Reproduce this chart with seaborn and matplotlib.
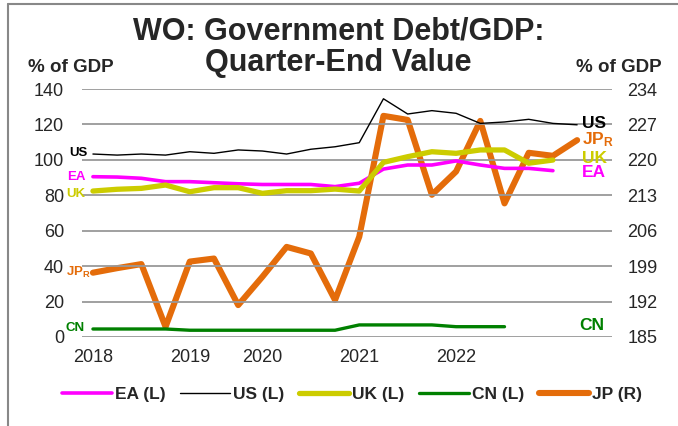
import numpy as np
import pandas as pd
import matplotlib
matplotlib.use("Agg")
import matplotlib.pyplot as plt
from matplotlib.lines import Line2D
from matplotlib.font_manager import FontProperties
import seaborn as sns

# quarterly, 2018Q1 .. 2023Q2
quarters = pd.period_range("2018Q1", "2023Q2", freq="Q").astype(str).tolist()
year_ticks = ["2018Q1", "2019Q1", "2019Q4", "2020Q4", "2021Q4"]
year_labels = ["2018", "2019", "2020", "2021", "2022"]

us = [103.3, 102.7, 103.3, 102.7, 104.6, 103.7, 105.6, 105.0, 103.3, 106.0, 107.4,
      109.7, 134.5, 125.9, 127.8, 126.3, 120.6, 121.4, 122.9, 120.6, 119.8]
ea = [90.5, 90.3, 89.6, 87.7, 87.7, 87.1, 86.5, 86.1, 86.1, 86.1, 84.9,
      86.8, 94.8, 97.1, 97.1, 99.4, 97.1, 95.2, 95.2, 93.9]
uk = [82.4, 83.4, 83.9, 85.8, 82.0, 84.3, 84.3, 81.1, 82.6, 82.6, 83.5,
      82.4, 98.6, 101.8, 104.6, 103.7, 105.6, 105.6, 98.1, 99.9]
cn = [4.5, 4.5, 4.5, 4.5, 3.8, 3.8, 3.8, 3.8, 3.8, 3.8, 3.8,
      6.8, 6.8, 6.8, 6.8, 5.8, 5.8, 5.8]
jp = [197.7, 198.6, 199.4, 187.0, 199.9, 200.5, 191.3, 196.9, 202.8, 201.5, 192.3,
      204.8, 228.7, 227.9, 213.1, 217.7, 227.7, 211.4, 221.4, 220.8, 223.9]

sns.set_style("white")
plt.rcParams["font.family"] = ["Liberation Sans", "DejaVu Sans"]
plt.rcParams["mathtext.fontset"] = "custom"
plt.rcParams["mathtext.rm"] = "Liberation Sans"
plt.rcParams["mathtext.bf"] = "Liberation Sans:bold"

C_EA, C_US, C_UK, C_CN, C_JP = "#FF00FF", "#000000", "#CCCC00", "#008000", "#E46C0A"

pos = {q: i for i, q in enumerate(quarters)}


def frame(vals):
    return pd.DataFrame({"x": range(len(vals)), "y": vals})


fig = plt.figure(figsize=(6.78, 4.26), dpi=100)
ax = fig.add_axes([0.121, 0.209, 0.782, 0.582])
ax2 = ax.twinx()

sns.lineplot(data=frame(ea), x="x", y="y", ax=ax, color=C_EA, lw=2.6)
sns.lineplot(data=frame(uk), x="x", y="y", ax=ax, color=C_UK, lw=3.8)
sns.lineplot(data=frame(us), x="x", y="y", ax=ax, color=C_US, lw=1.0)
sns.lineplot(data=frame(cn), x="x", y="y", ax=ax, color=C_CN, lw=2.4)
sns.lineplot(data=frame(jp), x="x", y="y", ax=ax2, color=C_JP, lw=4.4)

ax.set_xlim(-0.45, 21.45)
ax.set_ylim(0, 140)
ax2.set_ylim(185, 234)
ax.set_yticks(np.arange(0, 141, 20))
ax2.set_yticks(np.arange(185, 235, 7))
ax.set_xticks([pos[q] for q in year_ticks])
ax.set_xticklabels(year_labels)
ax.grid(axis="y", color="#999999", lw=1.3)
ax.grid(axis="x", visible=False)
ax2.grid(False)
ax.set_zorder(ax2.get_zorder() + 1)
ax.patch.set_visible(False)
for a in (ax, ax2):
    for s in a.spines.values():
        s.set_visible(False)
    a.set_xlabel("")
    a.set_ylabel("")
ax.tick_params(axis="y", length=0, pad=13, labelsize=13)
ax.tick_params(axis="x", length=0, pad=9, labelsize=13)
ax2.tick_params(axis="y", length=0, pad=11, labelsize=13)

# series tags
kw = dict(fontweight="bold", va="center")
ax.text(-0.22, 104.0, "US", color=C_US, ha="right", fontsize=9.5, **kw)
ax.text(-0.3, 90.3, "EA", color=C_EA, ha="right", fontsize=9.5, **kw)
ax.text(-0.3, 81.0, "UK", color=C_UK, ha="right", fontsize=9.5, **kw)
ax.text(-0.1, 36.2, r"$\mathbf{JP_R}$", color=C_JP, ha="right", fontsize=9.5, **kw)
ax.text(-0.35, 5.3, "CN", color=C_CN, ha="right", fontsize=9.5, **kw)
ax.text(20.2, 120.7, "US", color=C_US, ha="left", fontsize=12.5, **kw)
ax.text(20.2, 111.2, r"$\mathbf{JP_R}$", color=C_JP, ha="left", fontsize=12.5, **kw)
ax.text(20.2, 100.8, "UK", color=C_UK, ha="left", fontsize=12.5, **kw)
ax.text(20.2, 92.6, "EA", color=C_EA, ha="left", fontsize=12.5, **kw)
ax.text(20.1, 6.2, "CN", color=C_CN, ha="left", fontsize=12.5, **kw)

fig.text(0.499, 0.925, "WO: Government Debt/GDP:", ha="center", va="center",
         fontsize=22, fontweight="bold")
fig.text(0.499, 0.852, "Quarter-End Value", ha="center", va="center",
         fontsize=22, fontweight="bold")
fig.text(0.105, 0.842, "% of GDP", ha="center", va="center", fontsize=13.5, fontweight="bold")
fig.text(0.912, 0.842, "% of GDP", ha="center", va="center", fontsize=13.5, fontweight="bold")

handles = [
    Line2D([], [], color=C_EA, lw=2.6),
    Line2D([], [], color=C_US, lw=1.0),
    Line2D([], [], color=C_UK, lw=3.8),
    Line2D([], [], color=C_CN, lw=2.4),
    Line2D([], [], color=C_JP, lw=4.4),
]
fig.legend(handles, ["EA (L)", "US (L)", "UK (L)", "CN (L)", "JP (R)"],
           loc="center", bbox_to_anchor=(0.519, 0.073), ncol=5, frameon=False,
           prop=FontProperties(family="Liberation Sans", weight="bold", size=12.5),
           handlelength=2.9, handletextpad=0.15, columnspacing=0.85)

# outer frame (left and top only, as in the source)
fig.add_artist(Line2D([0.012, 0.012], [0, 0.99], color="#888888", lw=1.5))
fig.add_artist(Line2D([0.012, 1.0], [0.99, 0.99], color="#888888", lw=1.5))

fig.savefig("out.png", dpi=100)
